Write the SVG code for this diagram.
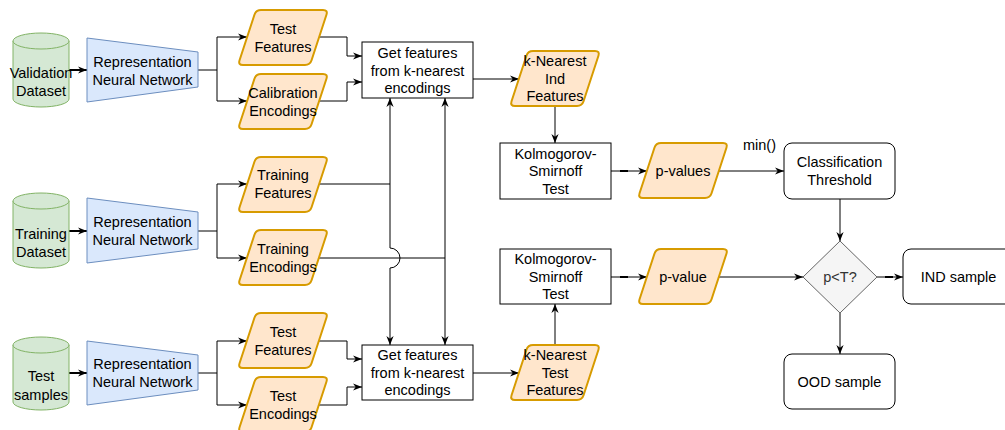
<svg xmlns="http://www.w3.org/2000/svg" xmlns:xlink="http://www.w3.org/1999/xlink" width="1005" height="430" viewBox="0 0 1005 430">
<style>
text{font-family:"Liberation Sans",Arial,sans-serif;font-size:14.5px;fill:#000;text-anchor:middle}
.cyl{fill:#d5e8d4;stroke:#82b366;stroke-width:1}
.trap{fill:#dae8fc;stroke:#6c8ebf;stroke-width:1}
.para{fill:#ffe6cc;stroke:#d79b00;stroke-width:2}
.box{fill:#fff;stroke:#000;stroke-width:1}
.dia{fill:#f5f5f5;stroke:#666;stroke-width:1}
.c{fill:none;stroke:#000;stroke-width:1}
.c2{fill:none;stroke:#000;stroke-width:2}
</style>
<defs>
<marker id="arr" viewBox="0 0 10 10" refX="10" refY="5" markerWidth="9" markerHeight="9" orient="auto" markerUnits="userSpaceOnUse">
<path d="M0 1 L10 5 L0 9 L3 5 Z" fill="#000"/>
</marker>
<path id="para" d="M23 0 L85 0 Q90 0 88.44 4.75 L73.56 50.25 Q72 55 67 55 L5 55 Q0 55 1.56 50.25 L16.44 4.75 Q18 0 23 0 Z"/>
</defs>

<g id="connectors">
<path class="c2" d="M69 70 L87 70" marker-end="url(#arr)"/>
<path class="c2" d="M69 231 L87 231" marker-end="url(#arr)"/>
<path class="c2" d="M69 373 L87 373" marker-end="url(#arr)"/>
<path class="c" d="M198 70 L217 70 L217 37 L247 37" marker-end="url(#arr)"/>
<path class="c" d="M217 70 L217 101 L247 101" marker-end="url(#arr)"/>
<path class="c" d="M198 231 L217 231 L217 184 L247 184" marker-end="url(#arr)"/>
<path class="c" d="M217 231 L217 258 L247 258" marker-end="url(#arr)"/>
<path class="c" d="M198 373 L217 373 L217 341 L247 341" marker-end="url(#arr)"/>
<path class="c" d="M217 373 L217 405 L247 405" marker-end="url(#arr)"/>
<path class="c" d="M319 37 L347 37 L347 56 L362 56" marker-end="url(#arr)"/>
<path class="c" d="M319 101 L347 101 L347 82 L362 82" marker-end="url(#arr)"/>
<path class="c" d="M319 341 L347 341 L347 359 L362 359" marker-end="url(#arr)"/>
<path class="c" d="M319 405 L347 405 L347 387 L362 387" marker-end="url(#arr)"/>
<path class="c" d="M319 184 L390 184 L390 98" marker-end="url(#arr)"/>
<path class="c" d="M390 184 L390 248 A10 10 0 0 1 390 268 L390 345" marker-end="url(#arr)"/>
<path class="c" d="M319 258 L445 258 L445 98" marker-end="url(#arr)"/>
<path class="c" d="M445 258 L445 345" marker-end="url(#arr)"/>
<path class="c" d="M473 79 L519 79" marker-end="url(#arr)"/>
<path class="c" d="M473 373 L519 373" marker-end="url(#arr)"/>
<path class="c" d="M555 106 L555 143" marker-end="url(#arr)"/>
<path class="c" d="M555 345 L555 304" marker-end="url(#arr)"/>
<path class="c" d="M611 171 L647 171" marker-end="url(#arr)"/>
<path class="c2" d="M620 171 L628 171"/>
<path class="c" d="M611 277 L647 277" marker-end="url(#arr)"/>
<path class="c2" d="M620 277 L628 277"/>
<path class="c" d="M719 171 L784 171" marker-end="url(#arr)"/>
<path class="c" d="M840 199 L840 241" marker-end="url(#arr)"/>
<path class="c" d="M719 277 L803 277" marker-end="url(#arr)"/>
<path class="c" d="M877 277 L903 277" marker-end="url(#arr)"/>
<path class="c2" d="M885 277 L893 277"/>
<path class="c" d="M840 313 L840 354" marker-end="url(#arr)"/>
<text x="759.5" y="150">min()</text>
</g>

<g id="validation-dataset">
<path class="cyl" d="M13 41 A28 8 0 0 1 69 41 L69 99 A28 8 0 0 1 13 99 Z"/>
<path class="cyl" fill="none" d="M13 41 A28 8 0 0 0 69 41"/>
<text x="41" y="78">Validation</text><text x="41" y="96">Dataset</text>
</g>
<g id="training-dataset">
<path class="cyl" d="M13 201 A28 8 0 0 1 69 201 L69 260 A28 8 0 0 1 13 260 Z"/>
<path class="cyl" fill="none" d="M13 201 A28 8 0 0 0 69 201"/>
<text x="41" y="239">Training</text><text x="41" y="257">Dataset</text>
</g>
<g id="test-samples">
<path class="cyl" d="M13 345 A28 8 0 0 1 69 345 L69 402 A28 8 0 0 1 13 402 Z"/>
<path class="cyl" fill="none" d="M13 345 A28 8 0 0 0 69 345"/>
<text x="41" y="381">Test</text><text x="41" y="400">samples</text>
</g>

<g id="rnn-validation">
<path class="trap" d="M87 38 L198 52 L198 87 L87 102 Z"/>
<text x="142.5" y="67">Representation</text><text x="142.5" y="85">Neural Network</text>
</g>
<g id="rnn-training">
<path class="trap" d="M87 198 L198 212 L198 249 L87 263 Z"/>
<text x="142.5" y="227">Representation</text><text x="142.5" y="245">Neural Network</text>
</g>
<g id="rnn-test">
<path class="trap" d="M87 341 L198 355 L198 390 L87 405 Z"/>
<text x="142.5" y="369">Representation</text><text x="142.5" y="387">Neural Network</text>
</g>

<g id="val-test-features">
<use xlink:href="#para" class="para" x="238" y="10"/>
<text x="283" y="34">Test</text><text x="283" y="52">Features</text>
</g>
<g id="calibration-encodings">
<use xlink:href="#para" class="para" x="238" y="74"/>
<text x="283" y="98">Calibration</text><text x="283" y="116">Encodings</text>
</g>
<g id="training-features">
<use xlink:href="#para" class="para" x="238" y="157"/>
<text x="283" y="180">Training</text><text x="283" y="198">Features</text>
</g>
<g id="training-encodings">
<use xlink:href="#para" class="para" x="238" y="230"/>
<text x="283" y="254">Training</text><text x="283" y="272">Encodings</text>
</g>
<g id="test-features">
<use xlink:href="#para" class="para" x="238" y="313"/>
<text x="283" y="337">Test</text><text x="283" y="355">Features</text>
</g>
<g id="test-encodings">
<use xlink:href="#para" class="para" x="238" y="377"/>
<text x="283" y="401">Test</text><text x="283" y="419">Encodings</text>
</g>

<g id="get-features-top">
<rect class="box" x="362" y="42" width="111" height="56"/>
<text x="417.5" y="58">Get features</text><text x="417.5" y="75.5">from k-nearest</text><text x="417.5" y="93">encodings</text>
</g>
<g id="get-features-bottom">
<rect class="box" x="362" y="345" width="111" height="55"/>
<text x="417.5" y="360">Get features</text><text x="417.5" y="377.5">from k-nearest</text><text x="417.5" y="395">encodings</text>
</g>

<g id="knn-ind-features">
<use xlink:href="#para" class="para" x="510" y="51"/>
<text x="555" y="66">k-Nearest</text><text x="555" y="83.5">Ind</text><text x="555" y="101">Features</text>
</g>
<g id="knn-test-features">
<use xlink:href="#para" class="para" x="510" y="345"/>
<text x="555" y="360">k-Nearest</text><text x="555" y="377.5">Test</text><text x="555" y="395">Features</text>
</g>

<g id="ks-test-1">
<rect class="box" x="500" y="143" width="111" height="56"/>
<text x="555.5" y="158.5">Kolmogorov-</text><text x="555.5" y="176">Smirnoff</text><text x="555.5" y="193.5">Test</text>
</g>
<g id="ks-test-2">
<rect class="box" x="500" y="249" width="111" height="55"/>
<text x="555.5" y="264">Kolmogorov-</text><text x="555.5" y="281.5">Smirnoff</text><text x="555.5" y="299">Test</text>
</g>

<g id="p-values">
<use xlink:href="#para" class="para" x="638" y="143"/>
<text x="683" y="175.5">p-values</text>
</g>
<g id="p-value">
<use xlink:href="#para" class="para" x="638" y="249"/>
<text x="683" y="281.5">p-value</text>
</g>

<g id="classification-threshold">
<rect class="box" x="784" y="143" width="111" height="56" rx="8"/>
<text x="839.5" y="167">Classification</text><text x="839.5" y="185">Threshold</text>
</g>
<g id="decision">
<path class="dia" d="M840 241 L877 277 L840 313 L803 277 Z"/>
<text x="840" y="282" style="fill:#333">p&lt;T?</text>
</g>
<g id="ind-sample">
<rect class="box" x="903" y="249" width="111" height="55" rx="8"/>
<text x="958.5" y="282">IND sample</text>
</g>
<g id="ood-sample">
<rect class="box" x="784" y="354" width="111" height="55" rx="8"/>
<text x="839.5" y="386.5">OOD sample</text>
</g>
</svg>
